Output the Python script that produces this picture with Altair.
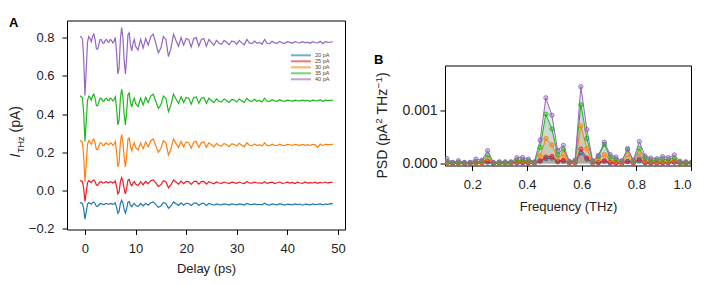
import altair as alt
import pandas as pd

# ---------------- Panel A : THz current traces ----------------
delay = [-1.0, -0.75, -0.5, -0.25, 0.0, 0.25, 0.5, 0.75, 1.0, 1.25, 1.5, 1.75, 2.0, 2.25, 2.5, 2.75,
         3.0, 3.25, 3.5, 3.75, 4.0, 4.25, 4.5, 4.75, 5.0, 5.25, 5.5, 5.75, 6.0, 6.25, 6.5, 6.75,
         7.0, 7.25, 7.5, 7.75, 8.0, 8.25, 8.5, 8.75, 9.0, 9.25, 9.5, 9.75, 10.0,
         10.5, 11.0, 11.5, 12.0, 12.5, 13.0, 13.5, 14.0, 14.5, 15.0, 15.5, 16.0, 16.5, 17.0, 17.5,
         18.0, 18.5, 19.0, 19.5, 20.0, 20.5, 21.0, 21.5, 22.0, 22.5, 23.0, 23.5, 24.0, 24.5, 25.0,
         25.5, 26.0, 26.5, 27.0, 27.5, 28.0, 28.5, 29.0, 29.5, 30.0, 30.5, 31.0, 31.5, 32.0, 32.5,
         33.0, 33.5, 34.0, 34.5, 35.0, 35.5, 36.0, 36.5, 37.0, 37.5, 38.0, 38.5, 39.0, 39.5, 40.0,
         40.5, 41.0, 41.5, 42.0, 42.5, 43.0, 43.5, 44.0, 44.5, 45.0, 45.5, 46.0, 46.5, 47.0, 47.5,
         48.0, 48.5, 49.0]

i40 = [0.805, 0.803, 0.792, 0.690, 0.497, 0.630, 0.775, 0.805, 0.795, 0.778, 0.805, 0.818, 0.790, 0.742, 0.738, 0.765,
       0.790, 0.788, 0.772, 0.770, 0.785, 0.790, 0.778, 0.775, 0.790, 0.785, 0.772, 0.780, 0.800, 0.720, 0.610, 0.640,
       0.790, 0.852, 0.800, 0.680, 0.610, 0.700, 0.815, 0.825, 0.760, 0.730, 0.770, 0.790, 0.755,
       0.735, 0.790, 0.745, 0.795, 0.760, 0.805, 0.818, 0.770, 0.720, 0.745, 0.805, 0.790, 0.700, 0.745, 0.818,
       0.785, 0.755, 0.800, 0.760, 0.795, 0.790, 0.750, 0.795, 0.800, 0.755, 0.790, 0.795, 0.755, 0.790, 0.775,
       0.760, 0.785, 0.770, 0.765, 0.785, 0.775, 0.762, 0.782, 0.778, 0.765, 0.785, 0.772, 0.762, 0.790, 0.772,
       0.768, 0.782, 0.770, 0.775, 0.765, 0.790, 0.770, 0.768, 0.780, 0.772, 0.770, 0.780, 0.772, 0.770, 0.778,
       0.775, 0.770, 0.778, 0.774, 0.772, 0.778, 0.772, 0.776, 0.770, 0.778, 0.774, 0.772, 0.780, 0.768, 0.778,
       0.775, 0.776, 0.778]

i35 = [0.494, 0.493, 0.484, 0.406, 0.257, 0.360, 0.471, 0.494, 0.487, 0.473, 0.494, 0.504, 0.483, 0.446, 0.443, 0.463,
       0.483, 0.481, 0.469, 0.467, 0.479, 0.483, 0.473, 0.471, 0.483, 0.479, 0.469, 0.475, 0.490, 0.429, 0.344, 0.367,
       0.483, 0.530, 0.490, 0.398, 0.344, 0.413, 0.502, 0.510, 0.460, 0.437, 0.467, 0.483, 0.456,
       0.440, 0.483, 0.448, 0.487, 0.460, 0.494, 0.504, 0.467, 0.429, 0.448, 0.494, 0.483, 0.413, 0.448, 0.504,
       0.479, 0.456, 0.490, 0.460, 0.487, 0.483, 0.452, 0.487, 0.490, 0.456, 0.483, 0.487, 0.456, 0.483, 0.471,
       0.460, 0.479, 0.467, 0.463, 0.479, 0.471, 0.461, 0.477, 0.473, 0.463, 0.479, 0.469, 0.461, 0.483, 0.469,
       0.466, 0.477, 0.467, 0.471, 0.463, 0.483, 0.467, 0.466, 0.475, 0.469, 0.467, 0.475, 0.469, 0.467, 0.473,
       0.471, 0.467, 0.473, 0.470, 0.469, 0.473, 0.469, 0.472, 0.467, 0.473, 0.470, 0.469, 0.475, 0.466, 0.473,
       0.471, 0.472, 0.473]

i30 = [0.261, 0.259, 0.251, 0.180, 0.045, 0.138, 0.240, 0.261, 0.254, 0.242, 0.261, 0.270, 0.250, 0.216, 0.214, 0.233,
       0.250, 0.249, 0.237, 0.236, 0.247, 0.250, 0.242, 0.240, 0.250, 0.247, 0.237, 0.243, 0.257, 0.201, 0.124, 0.145,
       0.250, 0.293, 0.257, 0.173, 0.124, 0.187, 0.268, 0.275, 0.229, 0.208, 0.236, 0.250, 0.226,
       0.212, 0.250, 0.219, 0.254, 0.229, 0.261, 0.270, 0.236, 0.201, 0.219, 0.261, 0.250, 0.187, 0.219, 0.270,
       0.247, 0.226, 0.257, 0.229, 0.254, 0.250, 0.222, 0.254, 0.257, 0.226, 0.250, 0.254, 0.226, 0.250, 0.240,
       0.229, 0.247, 0.236, 0.233, 0.247, 0.240, 0.230, 0.244, 0.242, 0.233, 0.247, 0.237, 0.230, 0.250, 0.237,
       0.235, 0.244, 0.236, 0.240, 0.233, 0.250, 0.236, 0.235, 0.243, 0.237, 0.236, 0.243, 0.237, 0.236, 0.242,
       0.240, 0.236, 0.242, 0.239, 0.237, 0.242, 0.237, 0.240, 0.236, 0.242, 0.239, 0.226, 0.243, 0.235, 0.242,
       0.240, 0.240, 0.242]

i25 = [0.052, 0.051, 0.047, 0.012, -0.056, -0.010, 0.041, 0.052, 0.048, 0.042, 0.052, 0.056, 0.047, 0.030, 0.028, 0.038,
       0.047, 0.046, 0.040, 0.040, 0.045, 0.047, 0.042, 0.041, 0.047, 0.045, 0.040, 0.043, 0.050, 0.022, -0.017, -0.006,
       0.047, 0.068, 0.050, 0.008, -0.017, 0.015, 0.055, 0.059, 0.036, 0.026, 0.040, 0.047, 0.034,
       0.027, 0.047, 0.031, 0.048, 0.036, 0.052, 0.056, 0.040, 0.022, 0.031, 0.052, 0.047, 0.015, 0.031, 0.056,
       0.045, 0.034, 0.050, 0.036, 0.048, 0.047, 0.033, 0.048, 0.050, 0.034, 0.047, 0.048, 0.034, 0.047, 0.041,
       0.036, 0.045, 0.040, 0.038, 0.045, 0.041, 0.037, 0.044, 0.042, 0.038, 0.045, 0.040, 0.037, 0.047, 0.040,
       0.039, 0.044, 0.040, 0.041, 0.038, 0.047, 0.038, 0.042, 0.044, 0.037, 0.041, 0.045, 0.038, 0.040, 0.044,
       0.039, 0.043, 0.037, 0.044, 0.040, 0.038, 0.045, 0.039, 0.042, 0.040, 0.044, 0.038, 0.043, 0.040, 0.045,
       0.039, 0.043, 0.044]

i20 = [-0.063, -0.064, -0.067, -0.095, -0.149, -0.112, -0.071, -0.063, -0.066, -0.071, -0.063, -0.059, -0.067, -0.081, -0.082, -0.074,
       -0.067, -0.068, -0.072, -0.073, -0.069, -0.067, -0.071, -0.071, -0.067, -0.069, -0.072, -0.070, -0.064, -0.087, -0.118, -0.109,
       -0.067, -0.050, -0.064, -0.098, -0.118, -0.092, -0.060, -0.057, -0.076, -0.084, -0.073, -0.067, -0.077,
       -0.083, -0.067, -0.080, -0.066, -0.076, -0.063, -0.059, -0.073, -0.087, -0.080, -0.063, -0.067, -0.092, -0.080, -0.059,
       -0.069, -0.077, -0.064, -0.076, -0.066, -0.067, -0.078, -0.066, -0.064, -0.077, -0.067, -0.066, -0.077, -0.067, -0.071,
       -0.076, -0.069, -0.073, -0.074, -0.069, -0.071, -0.075, -0.069, -0.071, -0.074, -0.069, -0.072, -0.075, -0.067, -0.072,
       -0.073, -0.069, -0.073, -0.071, -0.074, -0.066, -0.073, -0.076, -0.069, -0.072, -0.074, -0.068, -0.072, -0.075, -0.070,
       -0.072, -0.074, -0.069, -0.073, -0.070, -0.076, -0.070, -0.072, -0.074, -0.069, -0.073, -0.071, -0.069, -0.074, -0.070,
       -0.072, -0.068, -0.069]

# ---------------- Panel B : power spectral density ----------------
freq = [0.107, 0.128, 0.149, 0.171, 0.192, 0.213, 0.235, 0.256, 0.277, 0.299, 0.320, 0.341, 0.363, 0.384,
        0.405, 0.427, 0.448, 0.469, 0.491, 0.512, 0.533, 0.555, 0.576, 0.597, 0.619, 0.640, 0.661, 0.683,
        0.704, 0.725, 0.747, 0.768, 0.789, 0.811, 0.832, 0.853, 0.875, 0.896, 0.917, 0.939, 0.960, 0.981, 1.003]

psd40 = [0.00009, 0.00002, 0.00005, 0.00002, 0.00002, 0.00008, 0.00006, 0.00024, 0.00002, 0.00003, 0.00003, 0.00003,
         0.00011, 0.00011, 0.00008, 0.00003, 0.00044, 0.00124, 0.00091, 0.00025, 0.00034, 0.00004, 0.00006, 0.00145,
         0.00064, 0.00005, 0.00015, 0.00040, 0.00017, 0.00012, 0.00005, 0.00028, 0.00006, 0.00041, 0.00014, 0.00010,
         0.00009, 0.00013, 0.00011, 0.00016, 0.00004, 0.00003, 0.00003]
psd35 = [0.00004, 0.00001, 0.00002, 0.00001, 0.00001, 0.00003, 0.00004, 0.00016, 0.00001, 0.00002, 0.00002, 0.00002,
         0.00006, 0.00006, 0.00005, 0.00002, 0.00030, 0.00093, 0.00065, 0.00017, 0.00027, 0.00003, 0.00005, 0.00111,
         0.00047, 0.00004, 0.00013, 0.00036, 0.00012, 0.00008, 0.00004, 0.00026, 0.00005, 0.00028, 0.00010, 0.00006,
         0.00006, 0.00008, 0.00007, 0.00010, 0.00002, 0.00002, 0.00002]
psd30 = [0.00002, 0.00001, 0.00001, 0.00001, 0.00001, 0.00002, 0.00002, 0.00009, 0.00001, 0.00001, 0.00001, 0.00001,
         0.00004, 0.00004, 0.00003, 0.00001, 0.00014, 0.00047, 0.00035, 0.00010, 0.00017, 0.00002, 0.00003, 0.00071,
         0.00028, 0.00002, 0.00007, 0.00017, 0.00006, 0.00004, 0.00002, 0.00016, 0.00003, 0.00018, 0.00005, 0.00004,
         0.00003, 0.00004, 0.00004, 0.00006, 0.00001, 0.00001, 0.00001]
psd25 = [0.00001, 0.00000, 0.00001, 0.00000, 0.00000, 0.00001, 0.00001, 0.00004, 0.00000, 0.00001, 0.00000, 0.00001,
         0.00002, 0.00002, 0.00001, 0.00001, 0.00005, 0.00012, 0.00013, 0.00004, 0.00006, 0.00001, 0.00002, 0.00027,
         0.00010, 0.00001, 0.00002, 0.00005, 0.00002, 0.00001, 0.00001, 0.00004, 0.00001, 0.00008, 0.00002, 0.00001,
         0.00001, 0.00001, 0.00002, 0.00003, 0.00000, 0.00000, 0.00000]
psd20 = [0.00001, 0.00000, 0.00000, 0.00000, 0.00000, 0.00001, 0.00001, 0.00002, 0.00000, 0.00000, 0.00000, 0.00000,
         0.00001, 0.00001, 0.00001, 0.00000, 0.00004, 0.00009, 0.00010, 0.00003, 0.00004, 0.00001, 0.00001, 0.00020,
         0.00008, 0.00001, 0.00001, 0.00004, 0.00001, 0.00001, 0.00000, 0.00003, 0.00001, 0.00005, 0.00001, 0.00001,
         0.00001, 0.00001, 0.00001, 0.00002, 0.00000, 0.00000, 0.00000]

labels = ["20 pA", "25 pA", "30 pA", "35 pA", "40 pA"]
colors = ["#1f77b4", "#ec1c24", "#ff7f0e", "#1db81d", "#9467bd"]

FONT = "Liberation Sans"
INK = "#222"

rows_a = []
for lab, ys in zip(labels, [i20, i25, i30, i35, i40]):
    for t, v in zip(delay, ys):
        rows_a.append({"delay": t, "current": v, "setpoint": lab})
df_a = pd.DataFrame(rows_a)

rows_b = []
for lab, ys in zip(labels, [psd20, psd25, psd30, psd35, psd40]):
    for f, v in zip(freq, ys):
        rows_b.append({"freq": f, "psd": v, "setpoint": lab})
df_b = pd.DataFrame(rows_b)

one = pd.DataFrame({"k": [0]})
cscale = alt.Scale(domain=labels, range=colors)


def label_text(txt, x, y, size, angle=0, style="normal", weight="normal", align="left",
               baseline="alphabetic", color=INK):
    return alt.Chart(one).mark_text(text=txt, font=FONT, fontSize=size, fontStyle=style,
                                    fontWeight=weight, angle=angle, align=align,
                                    baseline=baseline, color=color).encode(
        x=alt.value(x), y=alt.value(y))


legend_a = alt.Legend(title=None, orient="none", legendX=223, legendY=32.5, symbolType="stroke",
                      symbolSize=400, symbolStrokeWidth=2, symbolOpacity=0.6, labelFontSize=5.5,
                      clipHeight=4.6, rowPadding=-1.4, labelOffset=3, padding=0, labelColor="#444",
                      labelFont=FONT)
legend_b = alt.Legend(title=None, orient="none", legendX=200, legendY=3.8, symbolType="stroke",
                      symbolSize=400, symbolStrokeWidth=2, symbolOpacity=0.6, labelFontSize=6.5,
                      clipHeight=6.4, rowPadding=0, labelOffset=3, padding=0, labelColor="#444",
                      labelFont=FONT)

# ----- Panel A -----
x_a = alt.X("delay:Q", scale=alt.Scale(domain=[-3.55, 51.4], nice=False, zero=False),
            axis=alt.Axis(values=[0, 10, 20, 30, 40, 50], format="d", title="Delay (ps)",
                          titleY=39, titleBaseline="middle"))
y_a = alt.Y("current:Q", scale=alt.Scale(domain=[-0.203, 0.889], nice=False, zero=False),
            axis=alt.Axis(values=[-0.2, 0.0, 0.2, 0.4, 0.6, 0.8], format=".1f", title=None))

lines_a = alt.Chart(df_a).mark_line(strokeWidth=1.2, clip=True).encode(
    x=x_a, y=y_a, color=alt.Color("setpoint:N", scale=cscale, legend=legend_a))

lab_a = label_text("A", -58, 2, 13, weight="bold", baseline="middle", color="black")
# y title  I_THz (pA)
yt_i = label_text("I", -47, 137, 14, angle=270, style="italic")
yt_sub = label_text("THz", -43.5, 132.5, 9, angle=270)
yt_unit = label_text("(pA)", -47, 112, 14, angle=270)

panel_a = alt.layer(lines_a, lab_a, yt_i, yt_sub, yt_unit).properties(width=278, height=209)

# ----- Panel B -----
x_b = alt.X("freq:Q", scale=alt.Scale(domain=[0.1, 1.0], nice=False, zero=False),
            axis=alt.Axis(values=[0.2, 0.4, 0.6, 0.8, 1.0], format=".1f", title="Frequency (THz)",
                          titleY=40.5, titleBaseline="middle"))
y_axis_b = alt.Axis(values=[0.0, 0.001], format=".3f", title=None, labelFontSize=14, labelPadding=3)
y_scale_b = alt.Scale(domain=[-0.00004, 0.00185], nice=False, zero=False)
y_b = alt.Y("psd:Q", scale=y_scale_b, axis=y_axis_b)

base_b = alt.Chart(df_b)
area_b = base_b.mark_area(opacity=0.18, clip=True).encode(
    x=x_b, y=alt.Y("psd:Q", stack=False, scale=y_scale_b, axis=y_axis_b),
    y2=alt.Y2(datum=0),
    color=alt.Color("setpoint:N", scale=cscale, legend=None))
line_b = base_b.mark_line(strokeWidth=1, clip=True).encode(
    x=x_b, y=y_b, color=alt.Color("setpoint:N", scale=cscale, legend=legend_b))
pts_b = base_b.mark_point(shape="circle", size=18, filled=False, strokeWidth=0.9, fillOpacity=0.35,
                          clip=True).encode(
    x=x_b, y=y_b, color=alt.Color("setpoint:N", scale=cscale, legend=None),
    fill=alt.Fill("setpoint:N", scale=cscale, legend=None))

lab_b = label_text("B", -71, -6, 13, weight="bold", baseline="middle", color="black")
# y title  PSD (pA^2 THz^-1)
bt1 = label_text("PSD (pA", -58, 113, 14, angle=270)
bt2 = label_text("2", -63, 58.3, 9.8, angle=270)
bt3 = label_text("THz", -58, 49, 14, angle=270)
bt4 = label_text("\u22121", -63, 22.8, 9.8, angle=270)
bt5 = label_text(")", -58, 11.6, 14, angle=270)

panel_b = alt.layer(area_b, line_b, pts_b, lab_b, bt1, bt2, bt3, bt4, bt5).properties(width=246, height=100)

# invisible spacer that pushes panel B down, as in the reference layout
spacer_b = alt.Chart(one).mark_point(opacity=0, size=1, strokeWidth=0).encode(
    x=alt.value(0), y=alt.value(1)).properties(
    width=246, height=31.5, view=alt.ViewBackground(stroke="transparent"))

col_b = alt.vconcat(spacer_b, panel_b, spacing=0)

chart = alt.hconcat(panel_a, col_b, spacing=27).resolve_scale(
    color="independent").resolve_legend(color="independent").properties(
    padding={"left": 0, "top": 7.5, "right": 5, "bottom": 5}
).configure(font=FONT).configure_view(stroke="black", strokeWidth=1).configure_axis(
    grid=False, domain=False, ticks=True, tickColor="black", tickSize=5, tickWidth=1,
    labelFontSize=13, labelColor=INK, labelFont=FONT, labelPadding=8,
    titleFontSize=13, titleFontWeight="normal", titleColor=INK, titleFont=FONT)

chart.save("out.html", embed_options={"renderer": "svg", "actions": False})
